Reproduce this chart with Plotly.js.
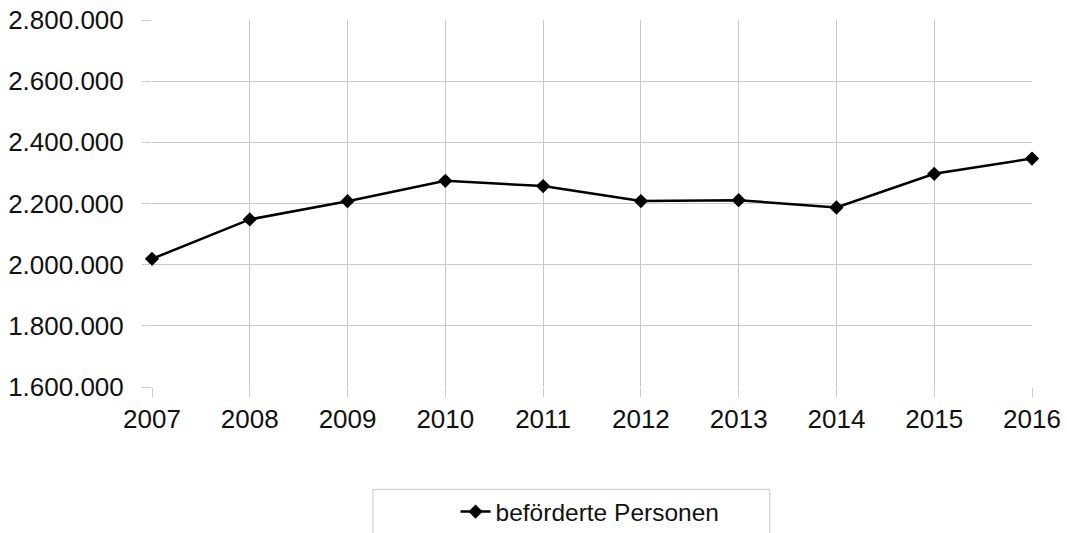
<!DOCTYPE html>
<html>
<head>
<meta charset="utf-8">
<script src="https://cdn.plot.ly/plotly-3.0.1.min.js"></script>
<style>html,body{margin:0;padding:0;background:#fff;}#chart{width:1067px;height:533px;}</style>
</head>
<body>
<div id="chart"></div>
<script>
const years = [2007, 2008, 2009, 2010, 2011, 2012, 2013, 2014, 2015, 2016];
const passengers = [2019000, 2148000, 2207500, 2274000, 2257000, 2208000, 2211000, 2187000, 2297000, 2347000];
const seriesName = 'beförderte Personen';
const yTickVals = [1600000, 1800000, 2000000, 2200000, 2400000, 2600000, 2800000];

const trace = {
  x: years,
  y: passengers,
  type: 'scatter',
  mode: 'lines+markers',
  name: seriesName,
  line: {color: '#000000', width: 2.5},
  marker: {symbol: 'diamond', size: 11, color: '#000000'},
  cliponaxis: false,
  showlegend: true,
  hoverinfo: 'x+y'
};

const fontFam = '"Liberation Sans", Arial, sans-serif';
const grid = '#c8c8c8';
const txt = '#111111';

const layout = {
  width: 1067,
  height: 533,
  separators: ',.',
  paper_bgcolor: '#ffffff',
  plot_bgcolor: '#ffffff',
  margin: {l: 152, r: 35, t: 19.5, b: 146, pad: 0},
  font: {family: fontFam, size: 26, color: txt},
  xaxis: {
    range: [2007, 2016],
    tickmode: 'array',
    tickvals: years,
    ticktext: years.map(String),
    showgrid: true,
    gridcolor: grid,
    gridwidth: 1,
    zeroline: false,
    showline: false,
    ticks: 'outside',
    ticklen: 9,
    tickcolor: grid,
    ticklabelstandoff: 0,
    tickfont: {family: fontFam, size: 26, color: txt},
    fixedrange: true
  },
  yaxis: {
    range: [1600000, 2800000],
    tickmode: 'array',
    tickvals: yTickVals,
    tickformat: ',d',
    showgrid: true,
    gridcolor: grid,
    gridwidth: 1,
    zeroline: false,
    showline: false,
    ticks: 'outside',
    ticklen: 9,
    tickcolor: grid,
    ticklabelstandoff: 13,
    tickfont: {family: fontFam, size: 26, color: txt},
    fixedrange: true
  },
  showlegend: true,
  legend: {
    orientation: 'h',
    xref: 'container',
    yref: 'container',
    x: 0.553,
    xanchor: 'center',
    y: 0.04,
    yanchor: 'middle',
    bgcolor: 'rgba(0,0,0,0)',
    borderwidth: 0,
    font: {family: fontFam, size: 24.5, color: txt}
  },
  shapes: [{
    type: 'rect',
    xref: 'paper',
    yref: 'paper',
    x0: 0.251, x1: 0.702,
    y0: -0.279, y1: -0.43,
    line: {color: grid, width: 1},
    fillcolor: 'rgba(0,0,0,0)',
    layer: 'below'
  }]
};

Plotly.newPlot('chart', [trace], layout, {displayModeBar: false, staticPlot: true});
</script>
</body>
</html>
